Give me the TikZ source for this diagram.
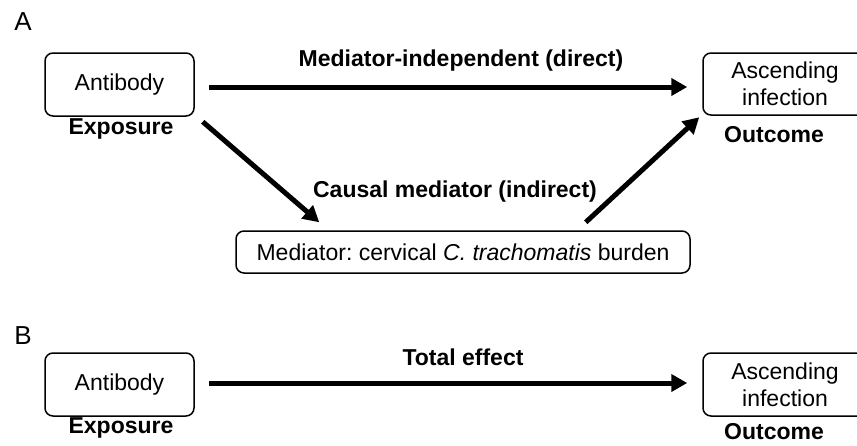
\documentclass[tikz,border=0pt]{standalone}
\usepackage{fontspec}
\setmainfont{Liberation Sans}
\usetikzlibrary{arrows.meta}
\frenchspacing
\tikzset{
  box/.style={draw=black, line width=1.5pt, rounded corners=8pt, inner sep=0pt, align=center, font=\fontsize{23}{27}\selectfont},
  lbl/.style={font=\fontsize{23}{27}\selectfont\bfseries, inner sep=0pt},
  panel/.style={font=\fontsize{26}{30}\selectfont, inner sep=0pt},
  bigarrow/.style={line width=5pt, -{Triangle[length=16pt,width=17pt]}}
}
\begin{document}
\frenchspacing
\begin{tikzpicture}[x=1pt,y=-1pt]
\useasboundingbox (0,0) rectangle (857,445);
\clip (0,0) rectangle (857,445);
% Panel A
\node[panel] (pA) at (23,22) {A};
\node[box, minimum width=149pt, minimum height=63pt] (abA) at (119.5,84.5) {Antibody};
\node[box, minimum width=164pt, minimum height=62pt] (ouA) at (785,84) {Ascending\\infection};
\node[box, minimum width=454pt, minimum height=42pt] (med) at (463,252) {Mediator: cervical \textit{C. trachomatis} burden};
\node[lbl] (exA) at (121,129) {Exposure};
\node[lbl] (oA) at (774,135) {Outcome};
\node[lbl] (dir) at (461,61) {Mediator-independent (direct)};
\node[lbl] (ind) at (455,192) {Causal mediator (indirect)};
\draw[bigarrow] ([xshift=14pt,yshift=-2.5pt]abA.east) -- ([xshift=-15pt,yshift=-3pt]ouA.west);
\draw[bigarrow] ([xshift=8pt,yshift=-5pt]abA.south east) -- ([xshift=84pt,yshift=8pt]med.north west);
\draw[bigarrow] ([xshift=-105pt,yshift=8pt]med.north east) -- ([xshift=-3pt,yshift=-1.5pt]ouA.south west);
% Panel B
\node[panel] (pB) at (23,336) {B};
\node[box, minimum width=149pt, minimum height=63pt] (abB) at (119.5,384.5) {Antibody};
\node[box, minimum width=164pt, minimum height=63pt] (ouB) at (785,384.5) {Ascending\\infection};
\node[lbl] (exB) at (121,428) {Exposure};
\node[lbl] (oB) at (774,432) {Outcome};
\node[lbl] (tot) at (463,357) {Total effect};
\draw[bigarrow] ([xshift=14pt,yshift=1.5pt]abB.east) -- ([xshift=-15pt,yshift=1.5pt]ouB.west);
\end{tikzpicture}
\end{document}
